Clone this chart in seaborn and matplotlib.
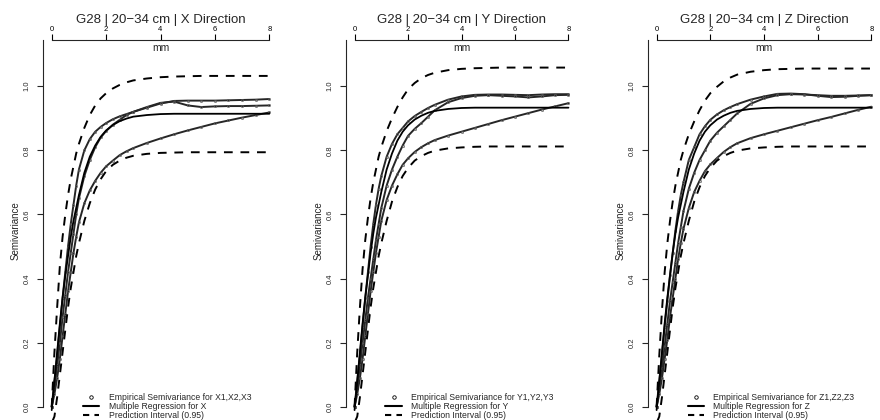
import matplotlib
matplotlib.use("Agg")
import matplotlib.pyplot as plt
from matplotlib.lines import Line2D
import seaborn as sns

sns.set_style("ticks")
plt.rcParams["font.family"] = ["Liberation Sans", "DejaVu Sans"]

# lag distance in mm (shared by all series)
lags = [0, 0.1, 0.2, 0.3, 0.4, 0.5, 0.6, 0.7, 0.8, 0.9, 1.0, 1.2, 1.4, 1.6, 1.8,
        2.0, 2.25, 2.5, 2.75, 3.0, 3.5, 4.0, 4.5, 5.0, 5.5, 6.0, 6.5, 7.0, 7.5, 8.0]

# X direction
x_upper = [0.00, 0.17, 0.31, 0.44, 0.53, 0.60, 0.66, 0.71, 0.75, 0.79, 0.82, 0.87, 0.91, 0.94, 0.962,
           0.978, 0.993, 1.004, 1.012, 1.018, 1.024, 1.028, 1.030, 1.031, 1.032, 1.032, 1.032, 1.032, 1.032, 1.032]
x_emp1 = [0.00, 0.08, 0.16, 0.25, 0.34, 0.42, 0.50, 0.57, 0.63, 0.69, 0.74, 0.80, 0.835, 0.858, 0.873,
          0.885, 0.897, 0.906, 0.913, 0.920, 0.933, 0.946, 0.954, 0.955, 0.955, 0.955, 0.956, 0.957, 0.958, 0.960]
x_emp2 = [0.00, 0.06, 0.13, 0.20, 0.28, 0.35, 0.42, 0.48, 0.54, 0.60, 0.65, 0.72, 0.77, 0.81, 0.84,
          0.86, 0.88, 0.895, 0.91, 0.92, 0.935, 0.948, 0.952, 0.940, 0.935, 0.937, 0.938, 0.938, 0.939, 0.940]
x_emp3 = [0.00, 0.04, 0.09, 0.15, 0.22, 0.29, 0.36, 0.42, 0.48, 0.53, 0.575, 0.635, 0.675, 0.705, 0.73,
          0.75, 0.768, 0.785, 0.797, 0.807, 0.823, 0.837, 0.85, 0.862, 0.873, 0.884, 0.893, 0.902, 0.91, 0.918]
x_reg = [-0.01, 0.08, 0.17, 0.26, 0.34, 0.41, 0.47, 0.53, 0.58, 0.62, 0.66, 0.73, 0.78, 0.815, 0.842,
         0.862, 0.879, 0.891, 0.899, 0.905, 0.910, 0.913, 0.914, 0.914, 0.914, 0.914, 0.914, 0.914, 0.914, 0.914]
x_lower = [-0.05, -0.03, 0.03, 0.10, 0.17, 0.24, 0.31, 0.37, 0.42, 0.47, 0.51, 0.58, 0.635, 0.678, 0.71,
           0.735, 0.755, 0.768, 0.777, 0.783, 0.789, 0.792, 0.793, 0.794, 0.794, 0.794, 0.794, 0.794, 0.794, 0.794]

# Y direction
y_upper = [0.00, 0.17, 0.31, 0.43, 0.52, 0.59, 0.65, 0.70, 0.74, 0.78, 0.81, 0.86, 0.90, 0.935, 0.965,
           0.99, 1.01, 1.025, 1.035, 1.042, 1.05, 1.054, 1.056, 1.057, 1.058, 1.058, 1.058, 1.058, 1.058, 1.058]
y_emp1 = [0.00, 0.08, 0.16, 0.25, 0.34, 0.42, 0.50, 0.57, 0.63, 0.68, 0.72, 0.78, 0.82, 0.85, 0.87,
          0.89, 0.907, 0.92, 0.932, 0.942, 0.958, 0.968, 0.973, 0.974, 0.974, 0.973, 0.972, 0.974, 0.975, 0.975]
y_emp2 = [0.00, 0.06, 0.13, 0.20, 0.27, 0.34, 0.40, 0.46, 0.52, 0.57, 0.62, 0.69, 0.74, 0.78, 0.815,
          0.845, 0.867, 0.885, 0.905, 0.925, 0.95, 0.963, 0.97, 0.972, 0.970, 0.968, 0.965, 0.968, 0.972, 0.973]
y_emp3 = [0.00, 0.04, 0.09, 0.15, 0.22, 0.29, 0.36, 0.42, 0.48, 0.53, 0.58, 0.645, 0.69, 0.725, 0.755,
          0.775, 0.795, 0.81, 0.822, 0.832, 0.846, 0.858, 0.87, 0.882, 0.894, 0.905, 0.916, 0.927, 0.937, 0.947]
y_reg = [-0.01, 0.08, 0.17, 0.26, 0.34, 0.41, 0.48, 0.54, 0.59, 0.63, 0.67, 0.74, 0.79, 0.83, 0.858,
         0.878, 0.896, 0.908, 0.917, 0.923, 0.929, 0.932, 0.933, 0.933, 0.933, 0.933, 0.933, 0.933, 0.933, 0.933]
y_lower = [-0.05, -0.03, 0.03, 0.10, 0.17, 0.24, 0.31, 0.37, 0.42, 0.47, 0.51, 0.58, 0.64, 0.685, 0.72,
           0.745, 0.768, 0.782, 0.792, 0.799, 0.806, 0.809, 0.811, 0.812, 0.812, 0.812, 0.812, 0.812, 0.812, 0.812]

# Z direction
z_upper = [0.00, 0.16, 0.30, 0.42, 0.51, 0.58, 0.64, 0.69, 0.73, 0.77, 0.80, 0.85, 0.89, 0.925, 0.955,
           0.978, 0.998, 1.015, 1.027, 1.036, 1.045, 1.05, 1.053, 1.054, 1.055, 1.055, 1.055, 1.055, 1.055, 1.055]
z_emp1 = [0.00, 0.08, 0.16, 0.25, 0.33, 0.41, 0.48, 0.55, 0.61, 0.66, 0.70, 0.77, 0.81, 0.85, 0.875,
          0.895, 0.912, 0.925, 0.935, 0.944, 0.958, 0.968, 0.976, 0.977, 0.975, 0.97, 0.966, 0.967, 0.97, 0.972]
z_emp2 = [0.00, 0.06, 0.12, 0.19, 0.26, 0.33, 0.39, 0.45, 0.51, 0.56, 0.61, 0.68, 0.73, 0.77, 0.80,
          0.83, 0.855, 0.875, 0.895, 0.915, 0.945, 0.962, 0.972, 0.975, 0.974, 0.972, 0.97, 0.97, 0.971, 0.972]
z_emp3 = [0.00, 0.04, 0.09, 0.15, 0.21, 0.28, 0.34, 0.40, 0.46, 0.51, 0.555, 0.62, 0.67, 0.705, 0.735,
          0.756, 0.776, 0.795, 0.81, 0.822, 0.838, 0.85, 0.861, 0.872, 0.883, 0.894, 0.904, 0.915, 0.926, 0.936]
z_reg = [-0.01, 0.08, 0.17, 0.26, 0.34, 0.41, 0.48, 0.54, 0.59, 0.63, 0.67, 0.74, 0.79, 0.83, 0.858,
         0.878, 0.896, 0.908, 0.917, 0.923, 0.929, 0.932, 0.933, 0.933, 0.933, 0.933, 0.933, 0.933, 0.933, 0.933]
z_lower = [-0.05, -0.03, 0.03, 0.10, 0.17, 0.24, 0.31, 0.37, 0.42, 0.47, 0.51, 0.58, 0.64, 0.685, 0.72,
           0.745, 0.768, 0.782, 0.792, 0.799, 0.806, 0.809, 0.811, 0.812, 0.812, 0.812, 0.812, 0.812, 0.812, 0.812]

titles = ["G28 | 20\u221234 cm | X Direction", "G28 | 20\u221234 cm | Y Direction", "G28 | 20\u221234 cm | Z Direction"]
emp_labels = ["Empirical Semivariance for X1,X2,X3", "Empirical Semivariance for Y1,Y2,Y3",
              "Empirical Semivariance for Z1,Z2,Z3"]
reg_labels = ["Multiple Regression for X", "Multiple Regression for Y", "Multiple Regression for Z"]
pi_label = "Prediction Interval (0.95)"
x_ticks = [0, 2, 4, 6, 8]
y_ticks = [0.0, 0.2, 0.4, 0.6, 0.8, 1.0]

panels = [
    (x_emp1, x_emp2, x_emp3, x_reg, x_upper, x_lower),
    (y_emp1, y_emp2, y_emp3, y_reg, y_upper, y_lower),
    (z_emp1, z_emp2, z_emp3, z_reg, z_upper, z_lower),
]

W, H = 880, 420
fig = plt.figure(figsize=(W / 100, H / 100), dpi=100)
lefts = [43, 346, 648]
widths = [235, 231, 232]
dash = (0, (4.5, 4))

for i, (e1, e2, e3, reg, up, lo) in enumerate(panels):
    ax = fig.add_axes([lefts[i] / W, -1 / H, widths[i] / W, 381 / H])
    for emp in (e1, e2, e3):
        sns.lineplot(x=lags, y=emp, ax=ax, color="0.15", lw=1.4, marker="o", markersize=1.6,
                     markerfacecolor="none", markeredgecolor="0.35", markeredgewidth=0.5)
    sns.lineplot(x=lags, y=reg, ax=ax, color="black", lw=1.3)
    sns.lineplot(x=lags, y=up, ax=ax, color="black", lw=1.4, linestyle=dash)
    sns.lineplot(x=lags, y=lo, ax=ax, color="black", lw=1.4, linestyle=dash)

    ax.set_xlim(-0.32, 8.32)
    ax.set_ylim(-0.044, 1.144)
    ax.xaxis.tick_top()
    ax.set_xticks(x_ticks)
    ax.set_xticklabels([str(t) for t in x_ticks])
    ax.set_yticks(y_ticks)
    ax.set_yticklabels([f"{t:.1f}" for t in y_ticks], rotation=90, va="center")
    ax.tick_params(axis="x", top=True, bottom=False, direction="out", length=4, width=0.8,
                   pad=1, labelsize=5.5, colors="black")
    ax.tick_params(axis="y", direction="out", length=4, width=0.8, pad=5, labelsize=5.5)
    for s in ("right", "bottom"):
        ax.spines[s].set_visible(False)
    ax.spines["top"].set_bounds(0, 8)
    ax.spines["left"].set_bounds(0, 1.144)
    ax.spines["top"].set_linewidth(0.8)
    ax.spines["left"].set_linewidth(0.8)
    ax.set_xlabel("")
    ax.set_ylabel("Semivariance", fontsize=7, labelpad=2)
    ax.text(0.5, 1 - 8 / 381, "mm", transform=ax.transAxes, ha="center", va="center", fontsize=7.5)
    ax.text(0.5, 1 + 20 / 381, titles[i], transform=ax.transAxes, ha="center", va="center", fontsize=9.5)

    handles = [
        Line2D([], [], marker="o", ls="none", mfc="none", mec="black", ms=2.5, mew=0.6),
        Line2D([], [], color="black", lw=1.5),
        Line2D([], [], color="black", lw=1.5, linestyle=(0, (3, 2.5))),
    ]
    ax.legend(handles, [emp_labels[i], reg_labels[i], pi_label], loc="lower left",
              bbox_to_anchor=(0.165, 0.0), frameon=False, fontsize=6.2, handlelength=1.9,
              handletextpad=1.1, labelspacing=0.0, borderpad=0.15, borderaxespad=0)

fig.savefig("out.png", dpi=100)
